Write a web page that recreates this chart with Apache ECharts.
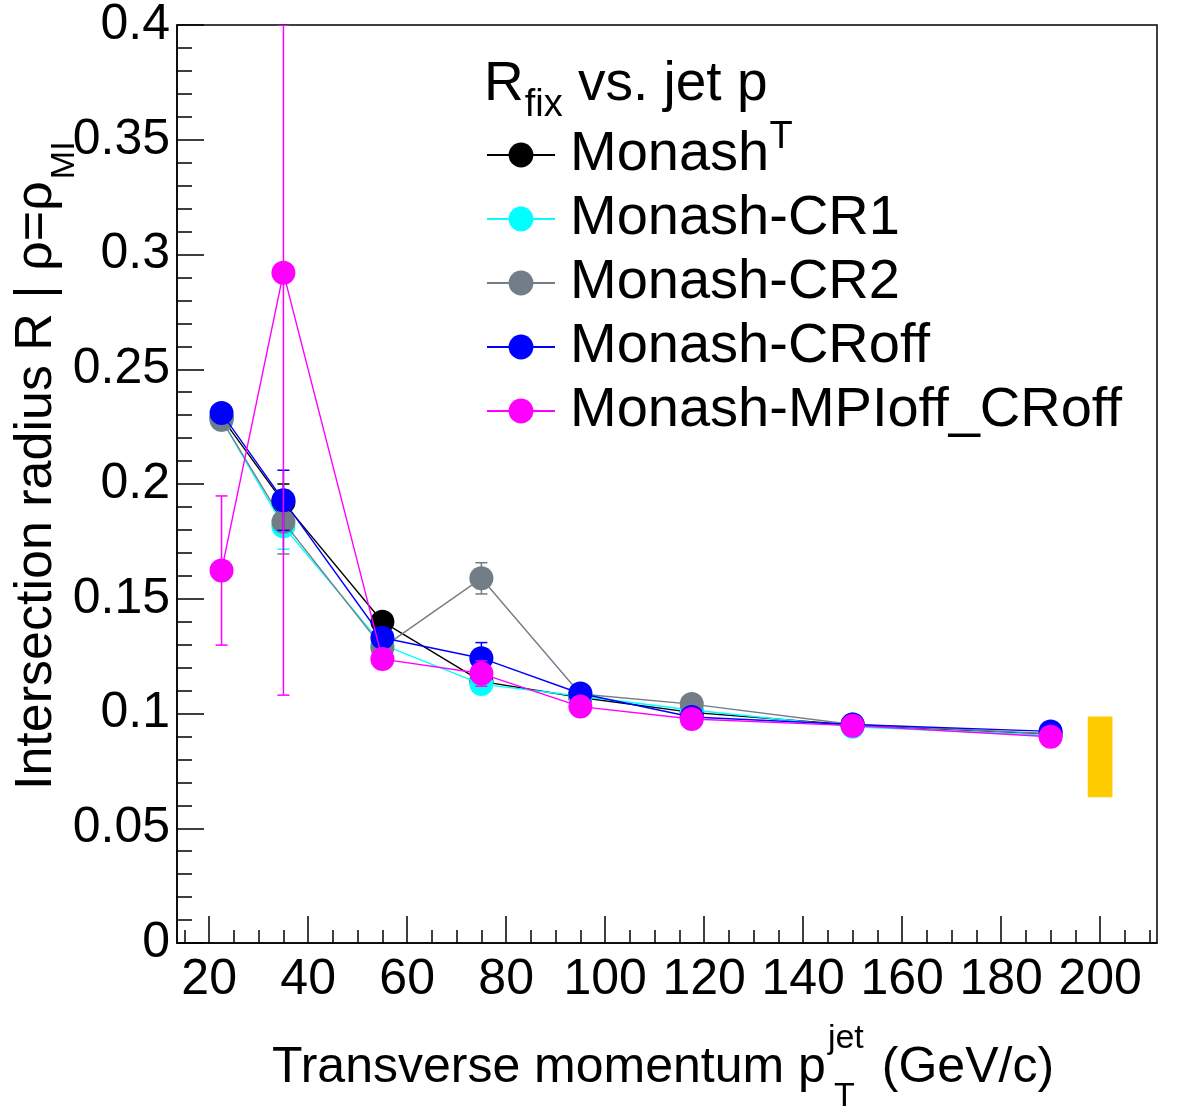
<!DOCTYPE html>
<html>
<head>
<meta charset="utf-8">
<script src="https://cdn.jsdelivr.net/npm/echarts@6/dist/echarts.min.js"></script>
<style>
html, body { margin: 0; padding: 0; background: #fff; }
#chart { width: 1182px; height: 1111px; }
</style>
</head>
<body>
<div id="chart"></div>
<script>
// jet pT bin centres (GeV/c)
var ptBins = [22.5, 35, 55, 75, 95, 117.5, 150, 190];

var names = ['Monash', 'Monash-CR1', 'Monash-CR2', 'Monash-CRoff', 'Monash-MPIoff_CRoff'];
var colors = ['#000000', '#00ffff', '#737d87', '#0000ff', '#ff00ff'];

// R_fix per tune
var rMonash = [0.229, 0.192, 0.140, 0.114, 0.107, 0.1005, 0.095, 0.091];
var rCR1    = [0.228, 0.1816, 0.130, 0.1128, 0.1075, 0.1015, 0.0942, 0.0905];
var rCR2    = [0.228, 0.1835, 0.1287, 0.1589, 0.1085, 0.1041, 0.0952, 0.0912];
var rCRoff  = [0.2309, 0.1929, 0.133, 0.1241, 0.1087, 0.0985, 0.0952, 0.0922];
var rMPIoff = [0.1623, 0.292, 0.1237, 0.1174, 0.103, 0.0976, 0.0947, 0.0899];

// statistical errors
var eMonash = [0.003, 0.008, 0.003, 0.003, 0.002, 0.002, 0.001, 0.001];
var eCR1    = [0.003, 0.010, 0.003, 0.003, 0.002, 0.002, 0.001, 0.001];
var eCR2    = [0.003, 0.014, 0.003, 0.0068, 0.002, 0.002, 0.001, 0.001];
var eCRoff  = [0.003, 0.0131, 0.003, 0.0068, 0.002, 0.002, 0.001, 0.001];
var eMPIoff = [0.0325, 0.184, 0.004, 0.0055, 0.003, 0.002, 0.001, 0.001];

// systematic band drawn at the right
var sysBandX = [197.5, 202.5];
var sysBandY = [0.0635, 0.0987];

var xTicks = [20, 40, 60, 80, 100, 120, 140, 160, 180, 200];
var xMinorTicks = [15, 25, 30, 35, 45, 50, 55, 65, 70, 75, 85, 90, 95, 105, 110, 115,
                   125, 130, 135, 145, 150, 155, 165, 170, 175, 185, 190, 195, 205, 210];

var X_MIN = 13.5, X_MAX = 211.5, Y_MIN = 0, Y_MAX = 0.4;
var FONT = '"Liberation Sans", Arial, sans-serif';

var values = [rMonash, rCR1, rCR2, rCRoff, rMPIoff];
var errors = [eMonash, eCR1, eCR2, eCRoff, eMPIoff];

var chart = echarts.init(document.getElementById('chart'));

// text helpers for sub/superscripts
var mctx = document.createElement('canvas').getContext('2d');
function textW(t, size) {
    mctx.font = size + 'px ' + FONT;
    return mctx.measureText(t).width;
}
function txt(t, x, base, size) {
    return {
        type: 'text', x: x, y: base - 0.33 * size,
        style: { text: t, fontSize: size, fontFamily: FONT, fill: '#000', verticalAlign: 'middle', align: 'left' }
    };
}

function errRender(color) {
    return function (params, api) {
        var x = api.value(0), y = api.value(1), e = api.value(2);
        var lo = Math.max(y - e, Y_MIN), hi = Math.min(y + e, Y_MAX);
        var p0 = api.coord([x, lo]), p1 = api.coord([x, hi]);
        var hw = 6;
        var st = { stroke: color, lineWidth: 1.5 };
        return {
            type: 'group',
            children: [
                { type: 'line', shape: { x1: p0[0], y1: p0[1], x2: p1[0], y2: p1[1] }, style: st },
                { type: 'line', shape: { x1: p0[0] - hw, y1: p0[1], x2: p0[0] + hw, y2: p0[1] }, style: st },
                { type: 'line', shape: { x1: p1[0] - hw, y1: p1[1], x2: p1[0] + hw, y2: p1[1] }, style: st }
            ]
        };
    };
}

var series = [];

series.push({
    type: 'custom',
    name: 'sys',
    z: 1,
    data: [[sysBandX[0], sysBandY[0], sysBandX[1], sysBandY[1]]],
    renderItem: function (params, api) {
        var a = api.coord([api.value(0), api.value(1)]);
        var b = api.coord([api.value(2), api.value(3)]);
        return {
            type: 'rect',
            shape: { x: a[0], y: b[1], width: b[0] - a[0], height: a[1] - b[1] },
            style: { fill: '#ffcc00' }
        };
    }
});

names.forEach(function (n, i) {
    series.push({
        type: 'custom',
        name: n + ' err',
        z: 2 + i * 2,
        clip: true,
        data: ptBins.map(function (x, k) { return [x, values[i][k], errors[i][k]]; }),
        renderItem: errRender(colors[i])
    });
    series.push({
        type: 'line',
        name: n,
        z: 3 + i * 2,
        data: ptBins.map(function (x, k) { return [x, values[i][k]]; }),
        symbol: 'circle',
        symbolSize: 24,
        showSymbol: true,
        lineStyle: { color: colors[i], width: 1.4 },
        itemStyle: { color: colors[i] },
        emphasis: { disabled: true },
        animation: false
    });
});

// axis titles and legend header
var graphics = [];

// x title
(function () {
    var s = 50, ss = 34, base = 1085;
    var x = 272;
    var main = 'Transverse momentum p';
    graphics.push(txt(main, x, base, s));
    x += textW(main, s) + 2;
    graphics.push(txt('jet', x, base - 35, ss));
    graphics.push(txt('T', x + 6, base + 23, ss));
    x += textW('jet', ss) + 18;
    graphics.push(txt('(GeV/c)', x, base, s));
})();

// y title, rotated
(function () {
    var s = 52, ss = 34;
    var kids = [];
    var x = 0;
    var main = 'Intersection radius R | \u03c1=\u03c1';
    kids.push(txt(main, x, 0, s));
    x += textW(main, s) + 2;
    kids.push(txt('MI', x, 22, ss));
    graphics.push({ type: 'group', x: 54, y: 790, rotation: Math.PI / 2, children: kids });
})();

// legend header
(function () {
    var s = 55, ss = 38, base = 103;
    var x = 484;
    graphics.push(txt('R', x, base, s));
    x += textW('R', s) + 1;
    graphics.push(txt('fix', x, base + 15, ss));
    x += textW('fix', ss);
    var t = ' vs. jet p';
    graphics.push(txt(t, x, base, s));
    x += textW(t, s) + 2;
    graphics.push(txt('T', x, base + 47, ss));
})();

var option = {
    backgroundColor: '#fff',
    animation: false,
    grid: {
        left: 177, right: 25, top: 22, bottom: 168,
        show: true, borderColor: '#000', borderWidth: 1.5, backgroundColor: 'transparent'
    },
    legend: {
        orient: 'vertical',
        left: 481,
        top: 121,
        itemWidth: 68,
        itemHeight: 31,
        itemGap: 6,
        selectedMode: false,
        data: names,
        textStyle: { fontSize: 56, fontFamily: FONT, color: '#000', lineHeight: 58, padding: [0, 0, 0, 10] }
    },
    xAxis: [
        {
            type: 'value', min: X_MIN, max: X_MAX,
            position: 'bottom',
            axisLine: { show: true, onZero: false, lineStyle: { color: '#000', width: 1.5 } },
            axisTick: { show: true, inside: true, length: 27, customValues: xTicks, lineStyle: { color: '#000', width: 1.5 } },
            axisLabel: { show: true, customValues: xTicks, fontSize: 50, fontFamily: FONT, color: '#000', margin: 12 },
            splitLine: { show: false }
        },
        {
            type: 'value', min: X_MIN, max: X_MAX,
            position: 'bottom',
            axisLine: { show: false },
            axisTick: { show: true, inside: true, length: 13, customValues: xMinorTicks, lineStyle: { color: '#000', width: 1.5 } },
            axisLabel: { show: false },
            splitLine: { show: false }
        }
    ],
    yAxis: {
        type: 'value', min: Y_MIN, max: Y_MAX, interval: 0.05,
        axisLine: { show: true, onZero: false, lineStyle: { color: '#000', width: 1.5 } },
        axisTick: { show: true, inside: true, length: 27, lineStyle: { color: '#000', width: 1.5 } },
        minorTick: { show: true, splitNumber: 5, length: 15, lineStyle: { color: '#000', width: 1.5 } },
        axisLabel: { fontSize: 50, fontFamily: FONT, color: '#000', margin: 7 },
        splitLine: { show: false }
    },
    graphic: graphics,
    series: series
};

chart.setOption(option);
</script>
</body>
</html>
